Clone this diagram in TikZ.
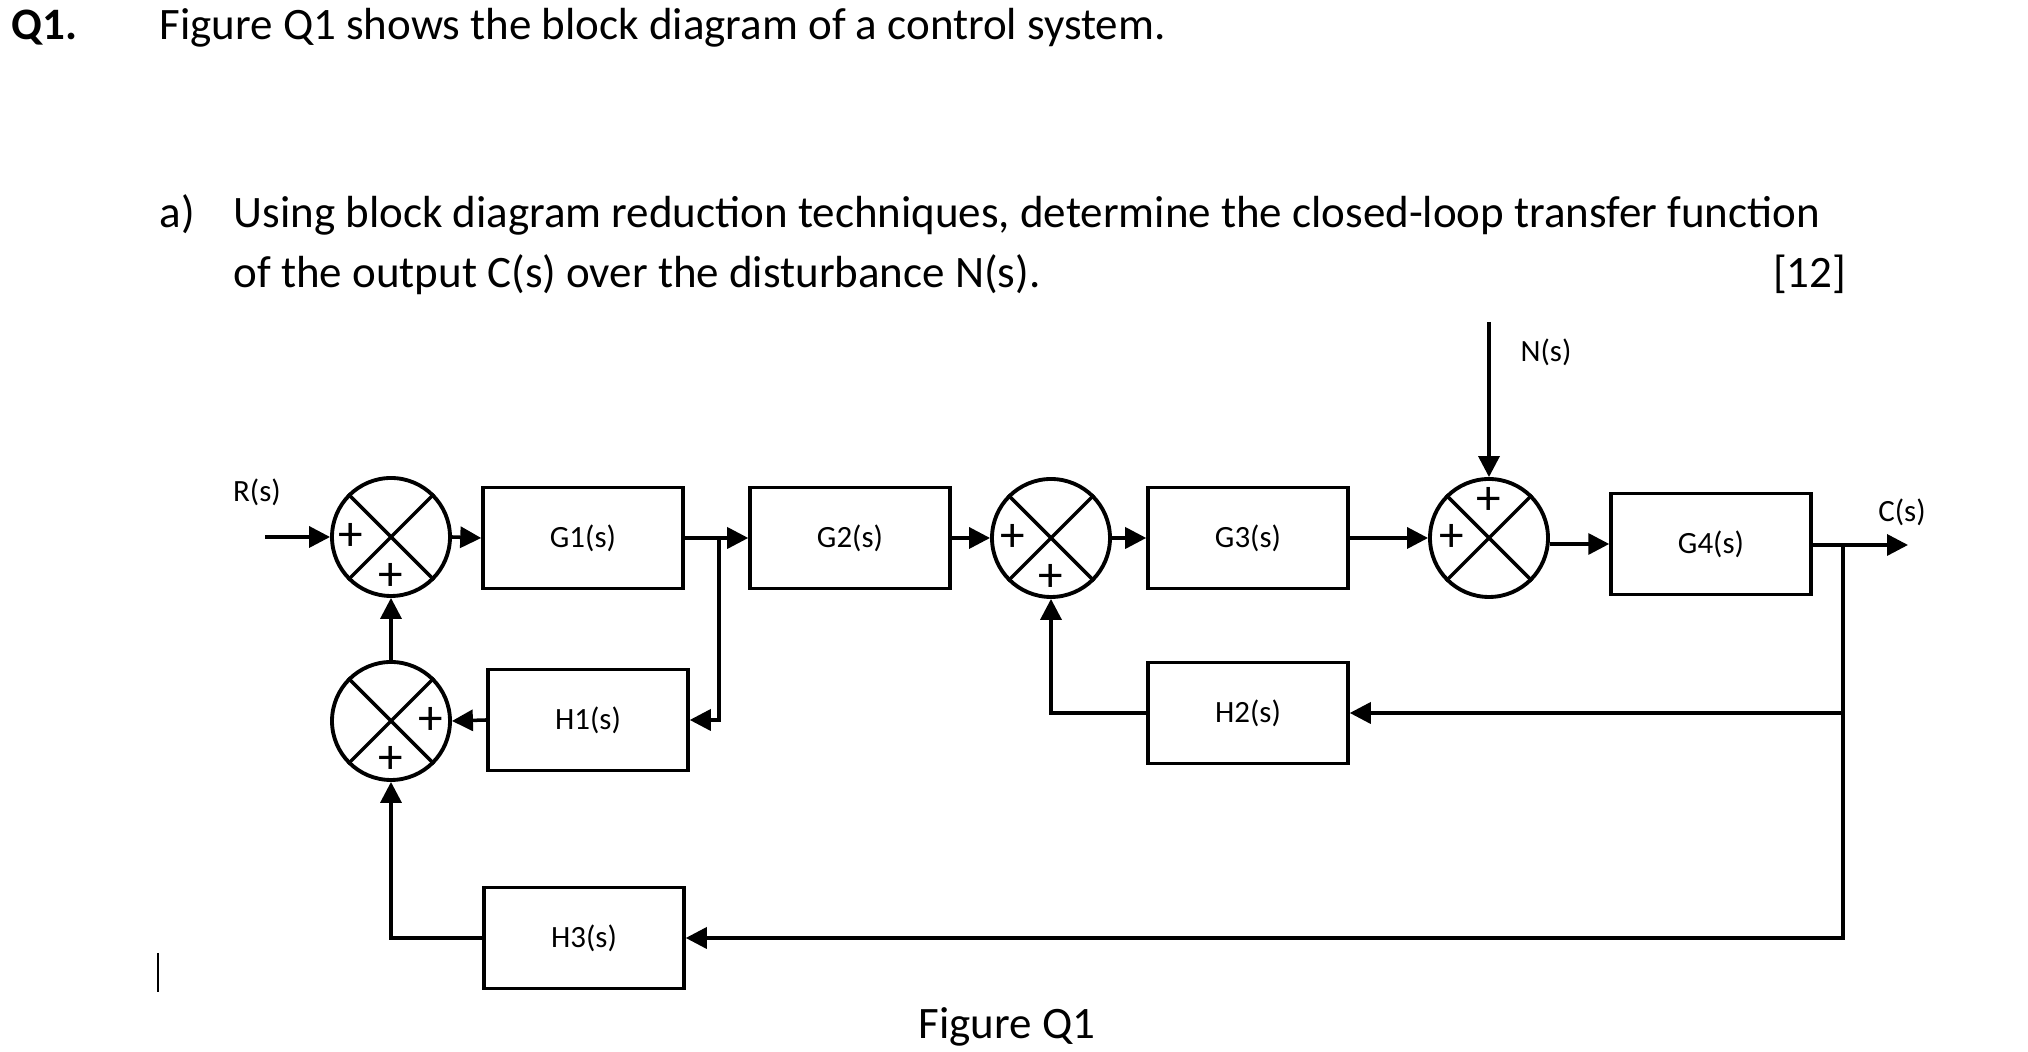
\documentclass[tikz,border=0pt]{standalone}
\usepackage{fontspec}
\setmainfont{Carlito}
\usetikzlibrary{arrows.meta}

\newcommand{\bodysize}{\fontsize{12.8pt}{15pt}\selectfont}
\newcommand{\labelsize}{\fontsize{8.8pt}{10pt}\selectfont}
\newcommand{\signsize}{\fontsize{14pt}{14pt}\selectfont}

\begin{document}
\begin{tikzpicture}[
    block/.style={draw, line width=1pt, minimum width=2cm, minimum height=1.01cm, inner sep=0pt, font=\labelsize},
    sumjunc/.style={circle, draw, line width=1.1pt, minimum size=1.18cm, inner sep=0pt},
    sign/.style={inner sep=0pt, font=\signsize},
    plain/.style={inner sep=0pt, font=\bodysize},
    lbl/.style={inner sep=0pt, font=\labelsize},
    arr/.style={line width=1pt, -{Triangle[length=2.1mm,width=2.1mm]}}
]
    \useasboundingbox (0,0) rectangle (20.28,-10.52);

    % Question text
    \node[plain, anchor=base west, font=\bodysize\bfseries] (qnum) at (0.11,-0.40) {Q1.};
    \node[plain, anchor=base west] (qline) at (1.59,-0.40) {Figure Q1 shows the block diagram of a control system.};
    \node[plain, anchor=base west] (parta) at (1.59,-2.28) {a)};
    \node[plain, anchor=base west] (partaA) at (2.33,-2.28) {Using block diagram reduction techniques, determine the closed-loop transfer function};
    \node[plain, anchor=base west] (partaB) at (2.33,-2.88) {of the output C(s) over the disturbance N(s).};
    \node[plain, anchor=base east] (marks) at (18.47,-2.88) {[12]};

    % Summing junctions
    \node[sumjunc] (sumA) at (3.91,-5.37) {};
    \node[sumjunc] (sumB) at (3.91,-7.21) {};
    \node[sumjunc] (sumC) at (10.51,-5.38) {};
    \node[sumjunc] (sumD) at (14.89,-5.38) {};
    \foreach \s in {sumA,sumB,sumC,sumD}
        \draw[line width=1pt] (\s.north west) -- (\s.south east) (\s.north east) -- (\s.south west);

    % Signs
    \node[sign] (sA1) at ([xshift=-0.40cm]sumA.center) {+};
    \node[sign] (sA2) at ([yshift=-0.40cm]sumA.center) {+};
    \node[sign] (sB1) at ([xshift=0.40cm]sumB.center) {+};
    \node[sign] (sB2) at ([yshift=-0.39cm]sumB.center) {+};
    \node[sign] (sC1) at ([xshift=-0.38cm]sumC.center) {+};
    \node[sign] (sC2) at ([yshift=-0.40cm]sumC.center) {+};
    \node[sign] (sD1) at ([xshift=-0.37cm]sumD.center) {+};
    \node[sign] (sD2) at ([yshift=0.37cm]sumD.center) {+};

    % Blocks
    \node[block] (G1) at (5.83,-5.38) {G1(s)};
    \node[block] (G2) at (8.50,-5.38) {G2(s)};
    \node[block] (G3) at (12.48,-5.38) {G3(s)};
    \node[block] (G4) at (17.11,-5.44) {G4(s)};
    \node[block] (H1) at (5.88,-7.20) {H1(s)};
    \node[block] (H2) at (12.48,-7.13) {H2(s)};
    \node[block] (H3) at (5.84,-9.38) {H3(s)};

    % Signals
    \coordinate (rin) at (2.65,-5.37);
    \coordinate (ntop) at (14.89,-3.22);
    \coordinate (cout) at (19.08,-5.45);
    \coordinate (brA) at (7.19,-5.38);
    \coordinate (brB) at (18.43,-5.45);
    \node[lbl] (rlabel) at (2.57,-4.92) {R(s)};
    \node[lbl] (nlabel) at (15.46,-3.52) {N(s)};
    \node[lbl] (clabel) at (19.02,-5.12) {C(s)};

    % Forward path
    \draw[arr] (rin) -- (sumA.west);
    \draw[arr] (sumA.east) -- (G1.west);
    \draw[arr] (G1.east) -- (G2.west);
    \draw[arr] (G2.east) -- (sumC.west);
    \draw[arr] (sumC.east) -- (G3.west);
    \draw[arr] (G3.east) -- (sumD.west);
    \draw[arr] (ntop) -- (sumD.north);
    \draw[arr] (sumD.east |- G4.west) -- (G4.west);
    \draw[arr] (G4.east |- cout) -- (cout);

    % Feedback paths
    \draw[arr] (brA) |- (H1.east);
    \draw[arr] (H1.west) -- (sumB.east);
    \draw[arr] (sumB.north) -- (sumA.south);
    \draw[arr] (brB) |- (H2.east);
    \draw[arr] (H2.west) -| (sumC.south);
    \draw[arr] (brB) |- (H3.east);
    \draw[arr] (H3.west) -| (sumB.south);

    % Caption and cursor mark
    \draw[line width=0.15mm] (1.58,-9.53) -- (1.58,-9.92);
    \node[plain, anchor=base west] (caption) at (9.18,-10.39) {Figure Q1};
\end{tikzpicture}
\end{document}
